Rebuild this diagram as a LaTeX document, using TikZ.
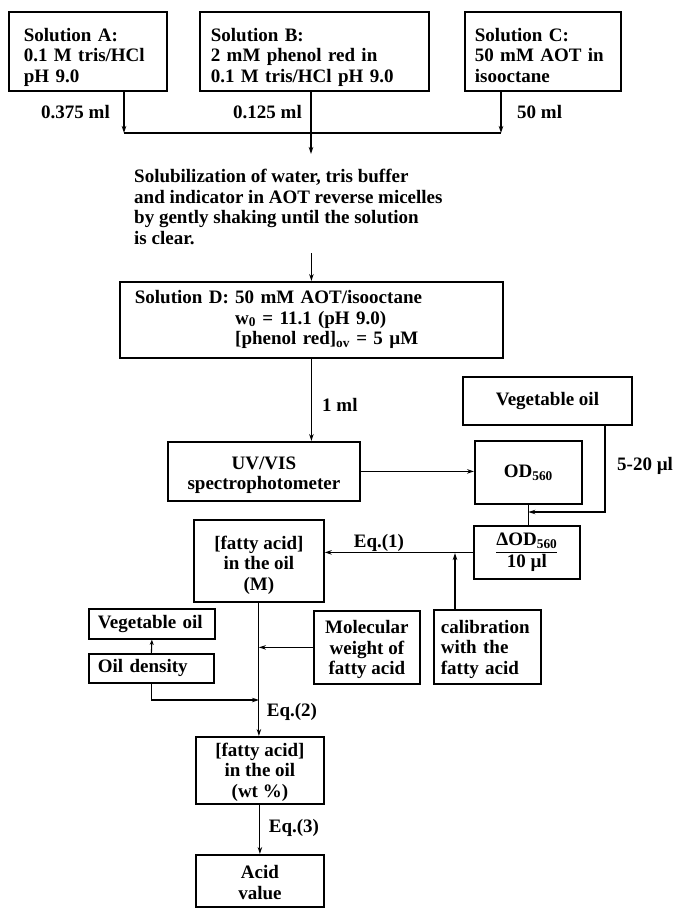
\documentclass[tikz,border=0pt]{standalone}
\usepackage{fontspec}
\setmainfont{Liberation Serif}
\usetikzlibrary{arrows.meta}
\newcommand\mytop[1]{\rule{0pt}{#1}}
\begin{document}
\begin{tikzpicture}[x=1pt,y=-1pt,
  every node/.style={font=\bfseries\fontsize{19}{20.5}\selectfont, inner sep=0pt},
  box/.style={draw, line width=1.8pt, anchor=north west},
  arr/.style={line width=1.1pt, -{Stealth[length=7pt,width=4.5pt]}},
  ln/.style={line width=1.1pt}]
\fill[white] (0,0) rectangle (675,908);
\useasboundingbox (0,0) rectangle (675,908);

% top solutions
\node[box, minimum width=158pt, minimum height=79pt, text width=128pt, align=left, inner xsep=15pt] (A) at (8,11) {\mytop{27pt}Solution A:\\0.1 M tris/HCl\\pH 9.0\strut};
\node[box, minimum width=229pt, minimum height=79pt, text width=207pt, align=left, inner xsep=11pt] (B) at (199,11) {\mytop{27pt}Solution B:\\2 mM phenol red in\\0.1 M tris/HCl pH 9.0\strut};
\node[box, minimum width=156pt, minimum height=79pt, text width=136pt, align=left, inner xsep=10pt] (C) at (464,11) {\mytop{27pt}Solution C:\\50 mM AOT in\\isooctane\strut};

\coordinate (jA) at (124,133);
\coordinate (jC) at (501,133);
\coordinate (jB) at (311,154);
\draw[arr] (A.south -| jA) -- (jA);
\draw[arr] (C.south -| jC) -- (jC);
\draw[ln] (jA) -- (jC);
\draw[arr] (B.south -| jB) -- (jB);

\node[anchor=east] (lA) at (110,112) {0.375 ml};
\node[anchor=east] (lB) at (302,112) {0.125 ml};
\node[anchor=west] (lC) at (517,112) {50 ml};

% solubilization text
\node[anchor=north west, align=left] (sol) at (134,169) {Solubilization of water, tris buffer\\and indicator in AOT reverse micelles\\by gently shaking until the solution\\is clear.};

% solution D
\node[box, minimum width=383pt, minimum height=76pt, text width=353pt, align=left, inner xsep=15pt] (D) at (119,281) {\begin{tabular}{@{}l@{ }l@{}}Solution D: & 50 mM AOT/isooctane\\ & w\textsubscript{0} = 11.1 (pH 9.0)\\ & [phenol red]\textsubscript{ov} = 5 µM\end{tabular}};
\coordinate (s2) at (D.north |- 0,253);
\draw[arr] (s2) -- (D.north);

% spectrophotometer row
\node[box, minimum width=192pt, minimum height=59pt, align=center] (UV) at (167,441) {\mytop{22pt}UV/VIS\\spectrophotometer\strut};
\draw[arr] (D.south) -- (D.south |- UV.north);
\node[anchor=west] (l1) at (322,405) {1 ml};

\node[box, minimum width=169pt, minimum height=48pt] (veg) at (462,376) {Vegetable oil};
\node[box, minimum width=107pt, minimum height=63pt] (OD) at (474,440) {OD\textsubscript{560}};
\draw[arr] (UV.east) -- (UV.east -| OD.west);

\node[box, minimum width=106pt, minimum height=53pt] (dOD) at (473,525) {\setlength{\arrayrulewidth}{1.2pt}\begin{tabular}{@{}c@{}}ΔOD\textsubscript{560}\\\hline 10 µl\end{tabular}};
\draw[ln] (OD.south) -- (OD.south |- dOD.north);
\coordinate (vx) at (605,424);
\coordinate (jv) at (OD.south |- 0,512);
\draw[arr] (vx) |- (jv);
\node[anchor=west] (l520) at (617,466) {5-20 µl};

% fatty acid (M)
\node[box, minimum width=130pt, minimum height=82pt, align=center] (M) at (193,519) {\mytop{24pt}[fatty acid]\\in the oil\\(M)\strut};
\draw[arr] (dOD.west) -- (dOD.west -| M.east);
\node (eq1) at (379,543) {Eq.(1)};

\node[box, minimum width=106pt, minimum height=73pt, align=center] (MW) at (313,610) {\mytop{20pt}Molecular\\weight of\\fatty acid\strut};
\node[box, minimum width=107pt, minimum height=74pt, text width=93pt, align=left, inner xsep=7pt] (cal) at (433,609) {\mytop{20pt}calibration\\with the\\fatty acid\strut};
\coordinate (jc) at (455,553);
\draw[arr] (cal.north -| jc) -- (jc);

\node[box, minimum width=126pt, minimum height=30pt, text width=108pt, align=left, inner xsep=9pt] (veg2) at (88,608) {Vegetable oil};
\node[box, minimum width=125pt, minimum height=29pt, text width=107pt, align=left, inner xsep=9pt] (dens) at (88,653) {Oil density};
\draw[-{Stealth[length=5pt,width=4pt]}, line width=1.1pt] (dens.north) -- (veg2.south);

% wt% and acid value
\node[box, minimum width=128pt, minimum height=67pt, align=center] (wt) at (195,736) {\mytop{19pt}[fatty acid]\\in the oil\\(wt \%)\strut};
\draw[arr] (M.south) -- (M.south |- wt.north);
\coordinate (jm) at (M.south |- MW.west);
\draw[arr] (MW.west) -- (jm);
\coordinate (jd) at (M.south |- 0,700);
\draw[arr] (dens.south) |- (jd);
\node (eq2) at (292,712) {Eq.(2)};

\node[box, minimum width=128pt, minimum height=52pt, align=center] (acid) at (195,854) {\mytop{22pt}Acid\\value\strut};
\draw[arr] (wt.south) -- (wt.south |- acid.north);
\node (eq3) at (294,828) {Eq.(3)};
\end{tikzpicture}
\end{document}
